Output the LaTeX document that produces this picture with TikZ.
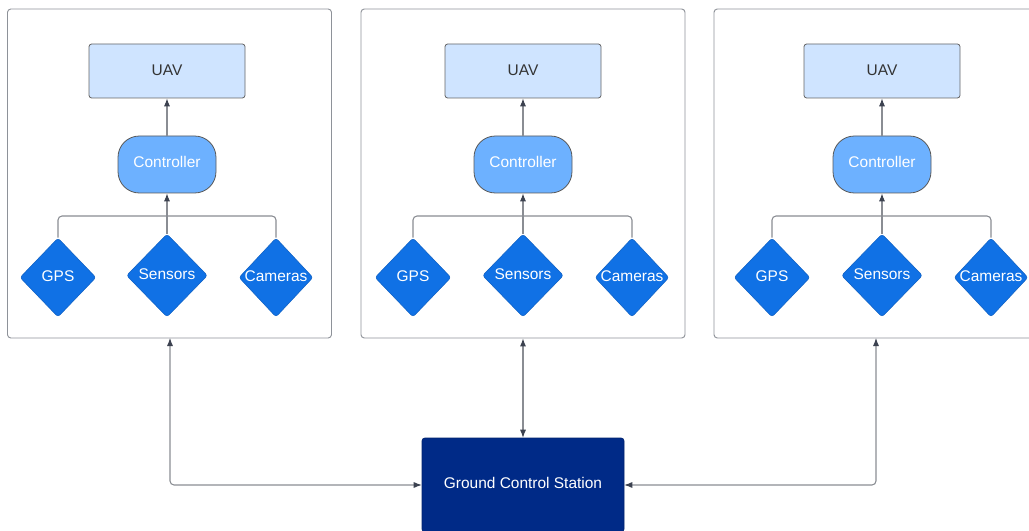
\documentclass[tikz,border=0pt]{standalone}
\usepackage{fontspec}
\setmainfont{Liberation Sans}
\usetikzlibrary{shapes.geometric,arrows.meta}
\definecolor{frame}{HTML}{8E9299}
\definecolor{linec}{HTML}{8A8D93}
\definecolor{tipc}{HTML}{3C4250}
\definecolor{uavfill}{HTML}{CFE4FF}
\definecolor{ctrlfill}{HTML}{6DB1FF}
\definecolor{diafill}{HTML}{1071E5}
\definecolor{gcsfill}{HTML}{002A87}
\definecolor{txt}{HTML}{333333}
\tikzset{
  panel/.style={draw=frame, line width=0.7pt, rounded corners=2.5pt, fill=white, minimum height=329*0.75pt, minimum width=324*0.75pt, inner sep=0},
  uav/.style={draw=gray!80!black, line width=0.6pt, fill=uavfill, rounded corners=2pt, minimum width=156*0.75pt, minimum height=54*0.75pt, inner sep=0, text=txt, text depth=1.5pt, font=\fontsize{11.6}{14}\selectfont},
  ctrl/.style={draw=gray!70!black, line width=0.6pt, fill=ctrlfill, rounded corners=16pt, minimum width=98*0.75pt, minimum height=57*0.75pt, inner sep=0, text=white, text depth=4pt, font=\fontsize{11.6}{14}\selectfont},
  dia/.style={diamond, draw=diafill!85!black, line width=0.4pt, fill=diafill, rounded corners=2pt, inner sep=0, label={[text=white, text depth=1.5pt, font=\fontsize{11.6}{14}\selectfont]center:#1}},
  gcs/.style={draw=gcsfill!80!black, fill=gcsfill, rounded corners=2pt, minimum width=202*0.75pt, minimum height=94*0.75pt, inner sep=0, text=white, text depth=3pt, font=\fontsize{11.6}{14}\selectfont},
  conn/.style={draw=linec, line width=0.8pt, rounded corners=3pt},
  tip/.style={-{Latex[length=6pt,width=4.6pt,color=tipc]}},
  tips/.style={{Latex[length=6pt,width=4.6pt,color=tipc]}-{Latex[length=6pt,width=4.6pt,color=tipc]}}
}
\begin{document}
\begin{tikzpicture}[x=0.75pt,y=-0.75pt]
\useasboundingbox (0,0) rectangle (1029,531);
\clip (0,0) rectangle (1029,531);
% panels
\node[panel] (p1) at (169.5,173.5) {};
\node[panel] (p2) at (523,173.5) {};
\node[panel] (p3) at (876,173.5) {};
% panel contents
\foreach \i/\cx/\g/\s/\c in {1/167/58/167/276, 2/523/413/523/632, 3/882/772/882/991} {
  \node[uav] (uav\i) at (\cx,71) {UAV};
  \node[ctrl] (ctrl\i) at (\cx,164.5) {Controller};
  \node[dia=GPS, minimum width=76*0.75pt, minimum height=79*0.75pt] (gps\i) at (\g,277.5) {};
  \node[dia={Sensors\raisebox{0pt}[0pt][2pt]{}}, minimum width=81*0.75pt, minimum height=83*0.75pt] (sen\i) at (\s,275.5) {};
  \node[dia=Cameras, minimum width=74*0.75pt, minimum height=79*0.75pt] (cam\i) at (\c,277.5) {};
  \coordinate (bus\i) at (\s,216);
  \draw[conn] (gps\i.north) |- (bus\i);
  \draw[conn] (cam\i.north) |- (bus\i);
  \draw[conn,tip] (sen\i.north) -- (ctrl\i.south);
  \draw[conn,tip] (ctrl\i.north) -- (uav\i.south);
}
% ground control station
\node[gcs] (gcs) at (523,485) {Ground Control Station};
\coordinate (a1) at (170,338);
\coordinate (a3) at (876,338);
\draw[conn,tips] (a1) |- (gcs.west);
\draw[conn,tips] (p2.south) -- (gcs.north);
\draw[conn,tips] (a3) |- (gcs.east);
\end{tikzpicture}
\end{document}
